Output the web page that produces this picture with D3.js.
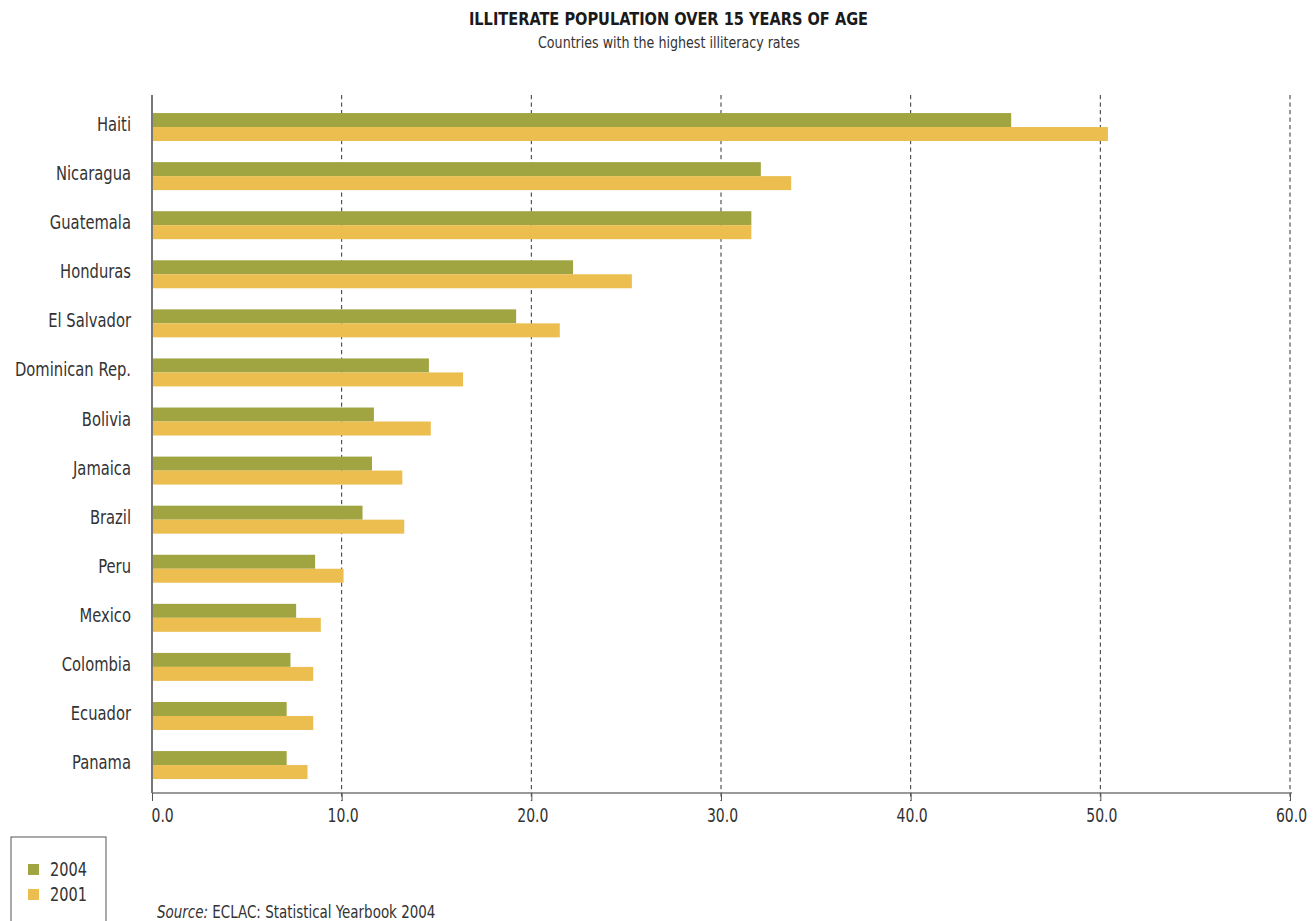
<!DOCTYPE html>
<html>
<head>
<meta charset="utf-8">
<script src="https://cdn.jsdelivr.net/npm/d3@7"></script>
<style>
  html, body { margin: 0; padding: 0; background: #fff; }
  svg { display: block; }
  text { font-family: "Liberation Sans Narrow", "DejaVu Sans Condensed", "Roboto Condensed", sans-serif; font-stretch: condensed; fill: #333; }
</style>
</head>
<body>
<svg id="chart" width="1314" height="921"></svg>
<script>
const countries = ["Haiti", "Nicaragua", "Guatemala", "Honduras", "El Salvador", "Dominican Rep.", "Bolivia", "Jamaica", "Brazil", "Peru", "Mexico", "Colombia", "Ecuador", "Panama"];
const values2004 = [45.3, 32.1, 31.6, 22.2, 19.2, 14.6, 11.7, 11.6, 11.1, 8.6, 7.6, 7.3, 7.1, 7.1];
const values2001 = [50.4, 33.7, 31.6, 25.3, 21.5, 16.4, 14.7, 13.2, 13.3, 10.1, 8.9, 8.5, 8.5, 8.2];
const seriesNames = ["2004", "2001"];
const seriesColors = ["#a0a542", "#ebbe4f"];
const xTicks = [0, 10, 20, 30, 40, 50, 60];
const titleText = "ILLITERATE POPULATION OVER 15 YEARS OF AGE";
const subtitleText = "Countries with the highest illiteracy rates";
const sourceLabel = "Source:";
const sourceText = " ECLAC: Statistical Yearbook 2004";

const svg = d3.select("#chart");

// horizontally condense text around its anchor point (the reference uses a condensed face)
function condense(sel, sx) {
  sel.each(function () {
    const t = d3.select(this);
    const ax = +(t.attr("x") || 0), ay = +(t.attr("y") || 0);
    t.attr("transform", `translate(${ax},${ay}) scale(${sx},1) translate(${-ax},${-ay})`);
  });
}

const x = d3.scaleLinear().domain([0, 60]).range([152, 1290]);
const y = d3.scaleBand().domain(countries).range([102.5, 789.6]).paddingInner(0.43).paddingOuter(0.215);
const ySub = d3.scaleBand().domain(seriesNames).range([0, y.bandwidth()]);

// title
svg.append("text").attr("x", 668.5).attr("y", 25).attr("text-anchor", "middle")
  .style("font-weight", "bold").style("font-size", "18px").style("fill", "#1a1a1a").text(titleText)
  .call(condense, 0.9);
svg.append("text").attr("x", 669).attr("y", 48.5).attr("text-anchor", "middle")
  .style("font-size", "16px").style("fill", "#333").text(subtitleText)
  .call(condense, 0.88);

// gridlines
const axisBottomY = 793;
svg.append("g").selectAll("line").data(xTicks.filter(d => d > 0)).join("line")
  .attr("x1", d => x(d)).attr("x2", d => x(d))
  .attr("y1", 95).attr("y2", axisBottomY + 8)
  .attr("stroke", "#333").attr("stroke-width", 1).attr("stroke-dasharray", "4.2,3.3");

// bars
const series = [values2004, values2001];
const g = svg.append("g");
series.forEach((vals, si) => {
  g.append("g").selectAll("rect").data(countries).join("rect")
    .attr("x", x(0))
    .attr("y", (d) => y(d) + ySub(seriesNames[si]))
    .attr("width", (d, i) => x(vals[i]) - x(0))
    .attr("height", ySub.bandwidth())
    .attr("fill", seriesColors[si]);
});

// x axis
const xAxis = d3.axisBottom(x).tickValues(xTicks).tickFormat(d3.format(".1f")).tickSize(8).tickPadding(6);
const gx = svg.append("g").attr("transform", `translate(0,${axisBottomY})`).call(xAxis);
gx.select(".domain").attr("stroke", "#777").attr("stroke-width", 1.5).attr("d", `M${x(0)},0H${x(60)+2}`);
gx.selectAll(".tick line").attr("stroke", "#555");
gx.selectAll(".tick text").style("font-size", "19px").style("font-family", null).attr("fill", "#333").attr("dy", "0.8em")
  .attr("text-anchor", d => d === 0 ? "start" : "middle")
  .attr("x", d => d === 0 ? -1 : 1)
  .call(condense, 0.82);

// y axis
const yAxis = d3.axisLeft(y).tickSize(0).tickPadding(21);
const gy = svg.append("g").attr("transform", `translate(${x(0)},0)`).call(yAxis);
gy.select(".domain").attr("stroke", "#777").attr("stroke-width", 2).attr("d", `M0,95V${axisBottomY}`);
gy.selectAll(".tick text").style("font-size", "20px").style("font-family", null).attr("fill", "#333").attr("dy", "0.2em")
  .call(condense, 0.82);

// legend
const lg = svg.append("g");
lg.append("rect").attr("x", 11).attr("y", 837).attr("width", 95).attr("height", 100)
  .attr("fill", "none").attr("stroke", "#555").attr("stroke-width", 1);
seriesNames.forEach((s, i) => {
  lg.append("rect").attr("x", 28).attr("y", 864 + i * 25).attr("width", 11).attr("height", 11).attr("fill", seriesColors[i]);
  lg.append("text").attr("x", 50).attr("y", 876 + i * 25).style("font-size", "19px").text(s)
    .call(condense, 0.85);
});

// source
const src = svg.append("text").attr("x", 157).attr("y", 918).style("font-size", "17px");
src.append("tspan").style("font-style", "italic").text(sourceLabel);
src.append("tspan").text(sourceText);
src.call(condense, 0.88);
</script>
</body>
</html>
